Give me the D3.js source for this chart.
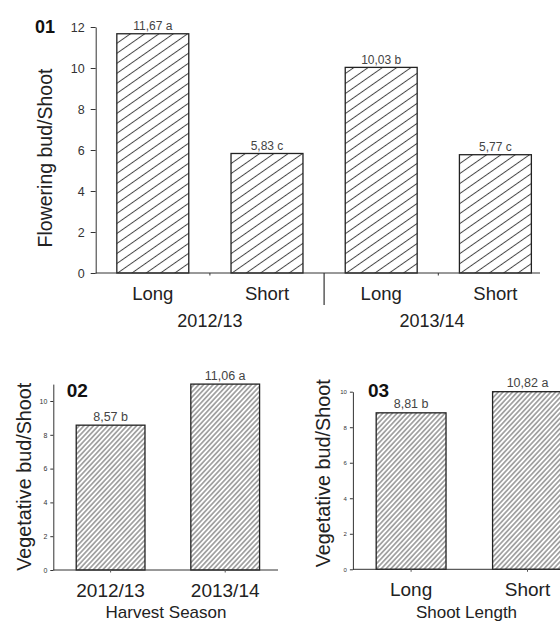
<!DOCTYPE html>
<html><head><meta charset="utf-8">
<script src="https://cdn.jsdelivr.net/npm/d3@7"></script>
<style>body{margin:0;background:#fff}svg{display:block;font-family:"Liberation Sans",Arial,sans-serif}</style>
</head><body><svg id="c" width="560" height="623"></svg>
<script>
// ---- Panel 01 data ----
const p1Categories = ["Long","Short","Long","Short"];
const p1Seasons = ["2012/13","2012/13","2013/14","2013/14"];
const p1Values = [11.67, 5.83, 10.03, 5.77];
const p1Labels = ["11,67 a","5,83 c","10,03 b","5,77 c"];
const p1Groups = ["2012/13","2013/14"];
const p1Ticks = [0,2,4,6,8,10,12];
// ---- Panel 02 data ----
const p2Categories = ["2012/13","2013/14"];
const p2Values = [8.57, 11.06];
const p2Labels = ["8,57 b","11,06 a"];
const p2Ticks = [0,2,4,6,8,10];
// ---- Panel 03 data ----
const p3Categories = ["Long","Short"];
const p3Values = [8.81, 10.82];
const p3Labels = ["8,81 b","10,82 a"];
const p3Ticks = [0,2,4,6,8,10];

const svg = d3.select("#c");
const defs = svg.append("defs");
function hatch(id, w, h, angle, color, sw){
  const p = defs.append("pattern").attr("id", id).attr("patternUnits","userSpaceOnUse")
    .attr("width", w).attr("height", h).attr("patternTransform", `rotate(${angle})`);
  p.append("rect").attr("width", w).attr("height", h).attr("fill","#fff");
  p.append("line").attr("x1",0).attr("x2",w).attr("y1",h/2).attr("y2",h/2)
    .attr("stroke", color).attr("stroke-width", sw);
}
hatch("hWide", 10, 8.2, -35, "#444", 1);
hatch("hFine", 6, 3.5, -47, "#4a4a4a", 0.9);

const TXT = "#222";

function styleYAxis(g, fs){
  g.select(".domain").attr("stroke","#333");
  g.selectAll(".tick line").attr("stroke","#333");
  g.selectAll(".tick text").attr("font-size", fs).attr("fill","#333").attr("font-family",null);
  g.attr("font-family", null);
}

// ================= Panel 01 =================
{
  const keys = p1Categories.map((c,i)=>c+"|"+p1Seasons[i]);
  const axX0 = 95.7, axX1 = 540, base = 273;
  const x = d3.scaleBand().domain(keys).range([axX0, 552.5]).paddingInner(0.37).paddingOuter(0.185);
  const y = d3.scaleLinear().domain([0,12]).range([base, 27]);
  const g = svg.append("g");
  const ya = g.append("g").attr("transform",`translate(${axX0},0)`)
    .call(d3.axisLeft(y).tickValues(p1Ticks).tickSize(5).tickPadding(6).tickSizeOuter(0));
  styleYAxis(ya, "12.5px");
  g.selectAll("rect.bar").data(p1Values).join("rect").attr("class","bar")
    .attr("x",(d,i)=>x(keys[i])).attr("width",x.bandwidth())
    .attr("y",d=>y(d)).attr("height",d=>base-y(d))
    .attr("fill","url(#hWide)").attr("stroke","#222").attr("stroke-width",1.3);
  g.selectAll("text.val").data(p1Labels).join("text").attr("class","val")
    .attr("x",(d,i)=>x(keys[i])+x.bandwidth()/2).attr("y",(d,i)=>y(p1Values[i])-3.5)
    .attr("text-anchor","middle").attr("font-size","12px").attr("fill","#444").text(d=>d);
  g.append("line").attr("x1",axX0).attr("x2",axX1).attr("y1",base).attr("y2",base).attr("stroke","#333");
  const xa = g.append("g").attr("transform",`translate(0,${base})`)
    .call(d3.axisBottom(x).tickSize(0).tickFormat((d,i)=>p1Categories[i]));
  xa.select(".domain").remove();
  xa.attr("font-family",null);
  xa.selectAll(".tick text").attr("y",27).attr("dy",null).attr("font-size","18.5px").attr("fill",TXT);
  const mids = keys.slice(0,-1).map((k,i)=>(x(k)+x.bandwidth()+x(keys[i+1]))/2);
  mids.forEach((m,i)=>{
    const major = p1Seasons[i] !== p1Seasons[i+1];
    g.append("line").attr("x1",m).attr("x2",m).attr("y1",base).attr("y2",base+(major?32:2.5))
      .attr("stroke","#333").attr("stroke-width",major?1.2:1);
  });
  const sep = mids[1];
  const centers = [(axX0+sep)/2, (sep+axX1)/2];
  g.selectAll("text.grp").data(p1Groups).join("text").attr("class","grp")
    .attr("x",(d,i)=>centers[i]).attr("y",327).attr("text-anchor","middle")
    .attr("font-size","18px").attr("fill",TXT).text(d=>d);
  g.append("text").attr("transform","translate(51.5,158) rotate(-90)").attr("text-anchor","middle")
    .attr("font-size","19.5px").attr("fill",TXT).text("Flowering bud/Shoot");
  g.append("text").attr("x",35).attr("y",33.3).attr("font-size","18px").attr("font-weight","bold")
    .attr("fill","#111").text("01");
}

// ========== Panels 02 & 03 (shared layout) ==========
function smallPanel(o){
  const g = svg.append("g");
  const x = d3.scaleBand().domain(o.cats).range(o.xr).paddingInner(0.4).paddingOuter(0.2);
  const y = d3.scaleLinear().domain(o.yd).range(o.yr).clamp(true);
  const base = o.yr[0];
  const ya = g.append("g").attr("transform",`translate(${o.xr[0]},0)`)
    .call(d3.axisLeft(y).tickValues(o.ticks).tickSize(3).tickPadding(3).tickSizeOuter(0));
  styleYAxis(ya, o.tickFs);
  g.selectAll("rect.bar").data(o.values).join("rect").attr("class","bar")
    .attr("x",(d,i)=>x(o.cats[i])).attr("width",x.bandwidth())
    .attr("y",d=>y(d)).attr("height",d=>base-y(d))
    .attr("fill","url(#hFine)").attr("stroke","#222").attr("stroke-width",1.3);
  g.selectAll("text.val").data(o.labels).join("text").attr("class","val")
    .attr("x",(d,i)=>x(o.cats[i])+x.bandwidth()/2).attr("y",(d,i)=>y(o.values[i])-4.5)
    .attr("text-anchor","middle").attr("font-size","12.5px").attr("fill","#444").text(d=>d);
  g.append("line").attr("x1",o.xr[0]).attr("x2",o.axEnd).attr("y1",base).attr("y2",base).attr("stroke","#333");
  const xa = g.append("g").attr("transform",`translate(0,${base})`)
    .call(d3.axisBottom(x).tickSize(2.5));
  xa.select(".domain").remove();
  xa.attr("font-family",null);
  xa.selectAll(".tick line").attr("stroke","#555");
  xa.selectAll(".tick text").attr("y",27).attr("dy",null).attr("font-size","19px").attr("fill",TXT);
  g.append("text").attr("x",o.titleX).attr("y",618).attr("text-anchor","middle")
    .attr("font-size","17px").attr("fill",TXT).text(o.title);
  g.append("text").attr("transform",`translate(${o.ylx},${o.yly}) rotate(-90)`).attr("text-anchor","middle")
    .attr("font-size","19.8px").attr("fill",TXT).text("Vegetative bud/Shoot");
  g.append("text").attr("x",o.numX).attr("y",396.5).attr("font-size","19px").attr("font-weight","bold")
    .attr("fill","#111").text(o.num);
}

smallPanel({cats:p2Categories, values:p2Values, labels:p2Labels, ticks:p2Ticks,
  xr:[53.3, 282.5], axEnd:278, yd:[0,11], yr:[570, 384.1], tickFs:"7px",
  title:"Harvest Season", titleX:166, ylx:30.5, yly:476.7, numX:66.7, num:"02"});
smallPanel({cats:p3Categories, values:p3Values, labels:p3Labels, ticks:p3Ticks,
  xr:[352.9, 585.7], axEnd:562, yd:[0,10], yr:[569.3, 391.7], tickFs:"6px",
  title:"Shoot Length", titleX:466.5, ylx:329.5, yly:473.3, numX:368, num:"03"});
</script></body></html>
